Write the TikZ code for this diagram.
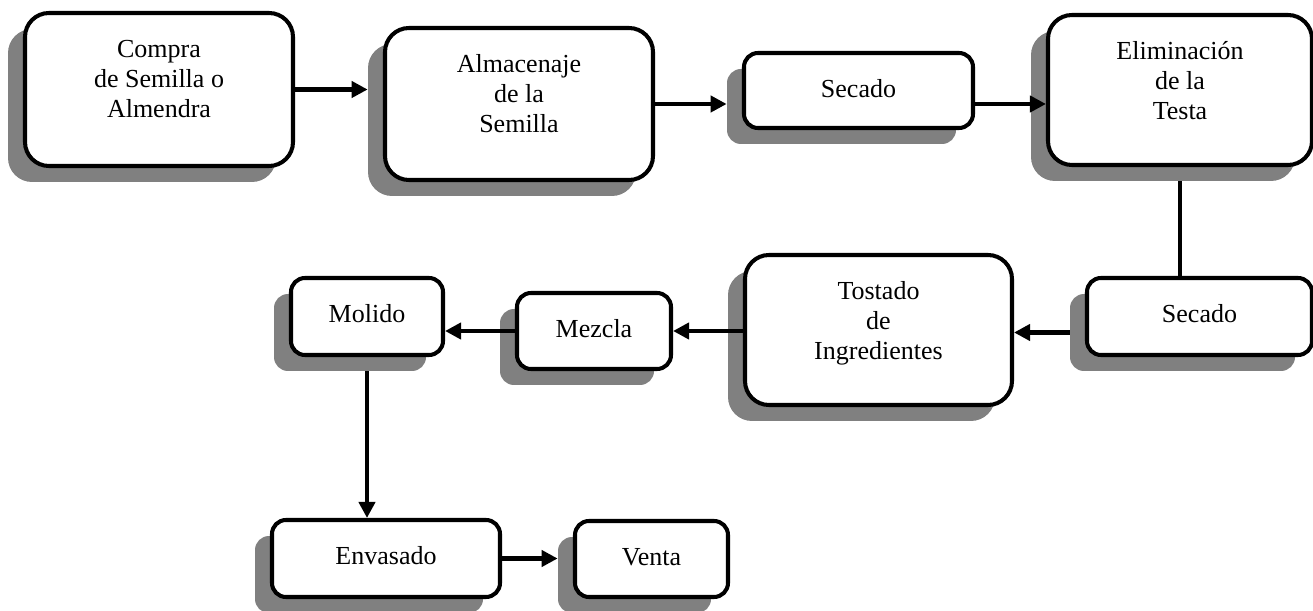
\documentclass[tikz,border=0pt]{standalone}
\usepackage{fontspec}
\setmainfont{Liberation Serif}
\usetikzlibrary{fit,arrows.meta}

\definecolor{shadowgray}{HTML}{808080}

\tikzset{
  x=0.02cm, y=-0.02cm,
  procbox/.style={draw=black, line width=2.3pt, fill=white, rounded corners=#1, inner sep=0pt},
  shadowbox/.style={fill=shadowgray, draw=none, rounded corners=#1, inner sep=0pt},
  steptext/.style={align=center, inner sep=0pt, font=\fontsize{14.8}{17.1}\selectfont},
  flow/.style={line width=2.3pt, -{Triangle[length=0.32cm,width=0.32cm]}},
  plainflow/.style={line width=2.3pt},
}

% a process step: name, left, top, right, bottom, corner radius, label, number of lines
\newcommand\flowstep[8]{%
  \node[shadowbox=#6, fit={(#2-17,#3+16) (#4-17,#5+16)}] (#1s) {};
  \node[procbox=#6, fit={(#2,#3) (#4,#5)}] (#1) {};
  \node[steptext, anchor=base] (#1t) at ([yshift={-(0.93cm+0.6cm*(#8-1))}]#1.north) {#7};
}

\begin{document}
\begin{tikzpicture}
  \useasboundingbox (0,0) rectangle (1313,611);

  % upper row
  \flowstep{compra}{25}{13}{293}{166}{0.48cm}{Compra\\de Semilla o\\Almendra}{3}
  \flowstep{almac}{385}{28}{653}{180}{0.48cm}{Almacenaje\\de la\\Semilla}{3}
  \flowstep{secuno}{744}{53}{973}{128}{0.28cm}{Secado}{1}
  \flowstep{elim}{1048}{15}{1312}{165}{0.48cm}{Eliminación\\de la\\Testa}{3}

  % middle row
  \flowstep{secdos}{1087}{278}{1312}{355}{0.28cm}{Secado}{1}
  \flowstep{tostado}{745}{255}{1012}{405}{0.48cm}{Tostado\\de\\Ingredientes}{3}
  \flowstep{mezcla}{517}{293}{671}{369}{0.28cm}{Mezcla}{1}
  \flowstep{molido}{291}{278}{443}{355}{0.28cm}{Molido}{1}

  % lower row
  \flowstep{envas}{272}{520}{500}{597}{0.28cm}{Envasado}{1}
  \flowstep{venta}{575}{521}{728}{597}{0.28cm}{Venta}{1}

  % connectors
  \draw[flow] (compra.east) -- (compra.east -| almacs.west);
  \draw[flow] (almac.east) -- (almac.east -| secunos.west);
  \draw[flow] (secuno.east |- almac.east) -- (elim.west |- almac.east);
  \draw[plainflow] (elim.south |- elims.south) -- (elim.south |- secdos.north);
  \draw[flow] (secdoss.west) -- (tostado.east |- secdoss.west);
  \draw[flow] (tostado.west |- mezcla.east) -- (mezcla.east);
  \draw[flow] (mezcla.west) -- (mezcla.west -| molido.east);
  \draw[flow] (molido.south |- molidos.south) -- (molido.south |- envas.north);
  \draw[flow] (envas.east) -- (envas.east -| ventas.west);
\end{tikzpicture}
\end{document}
